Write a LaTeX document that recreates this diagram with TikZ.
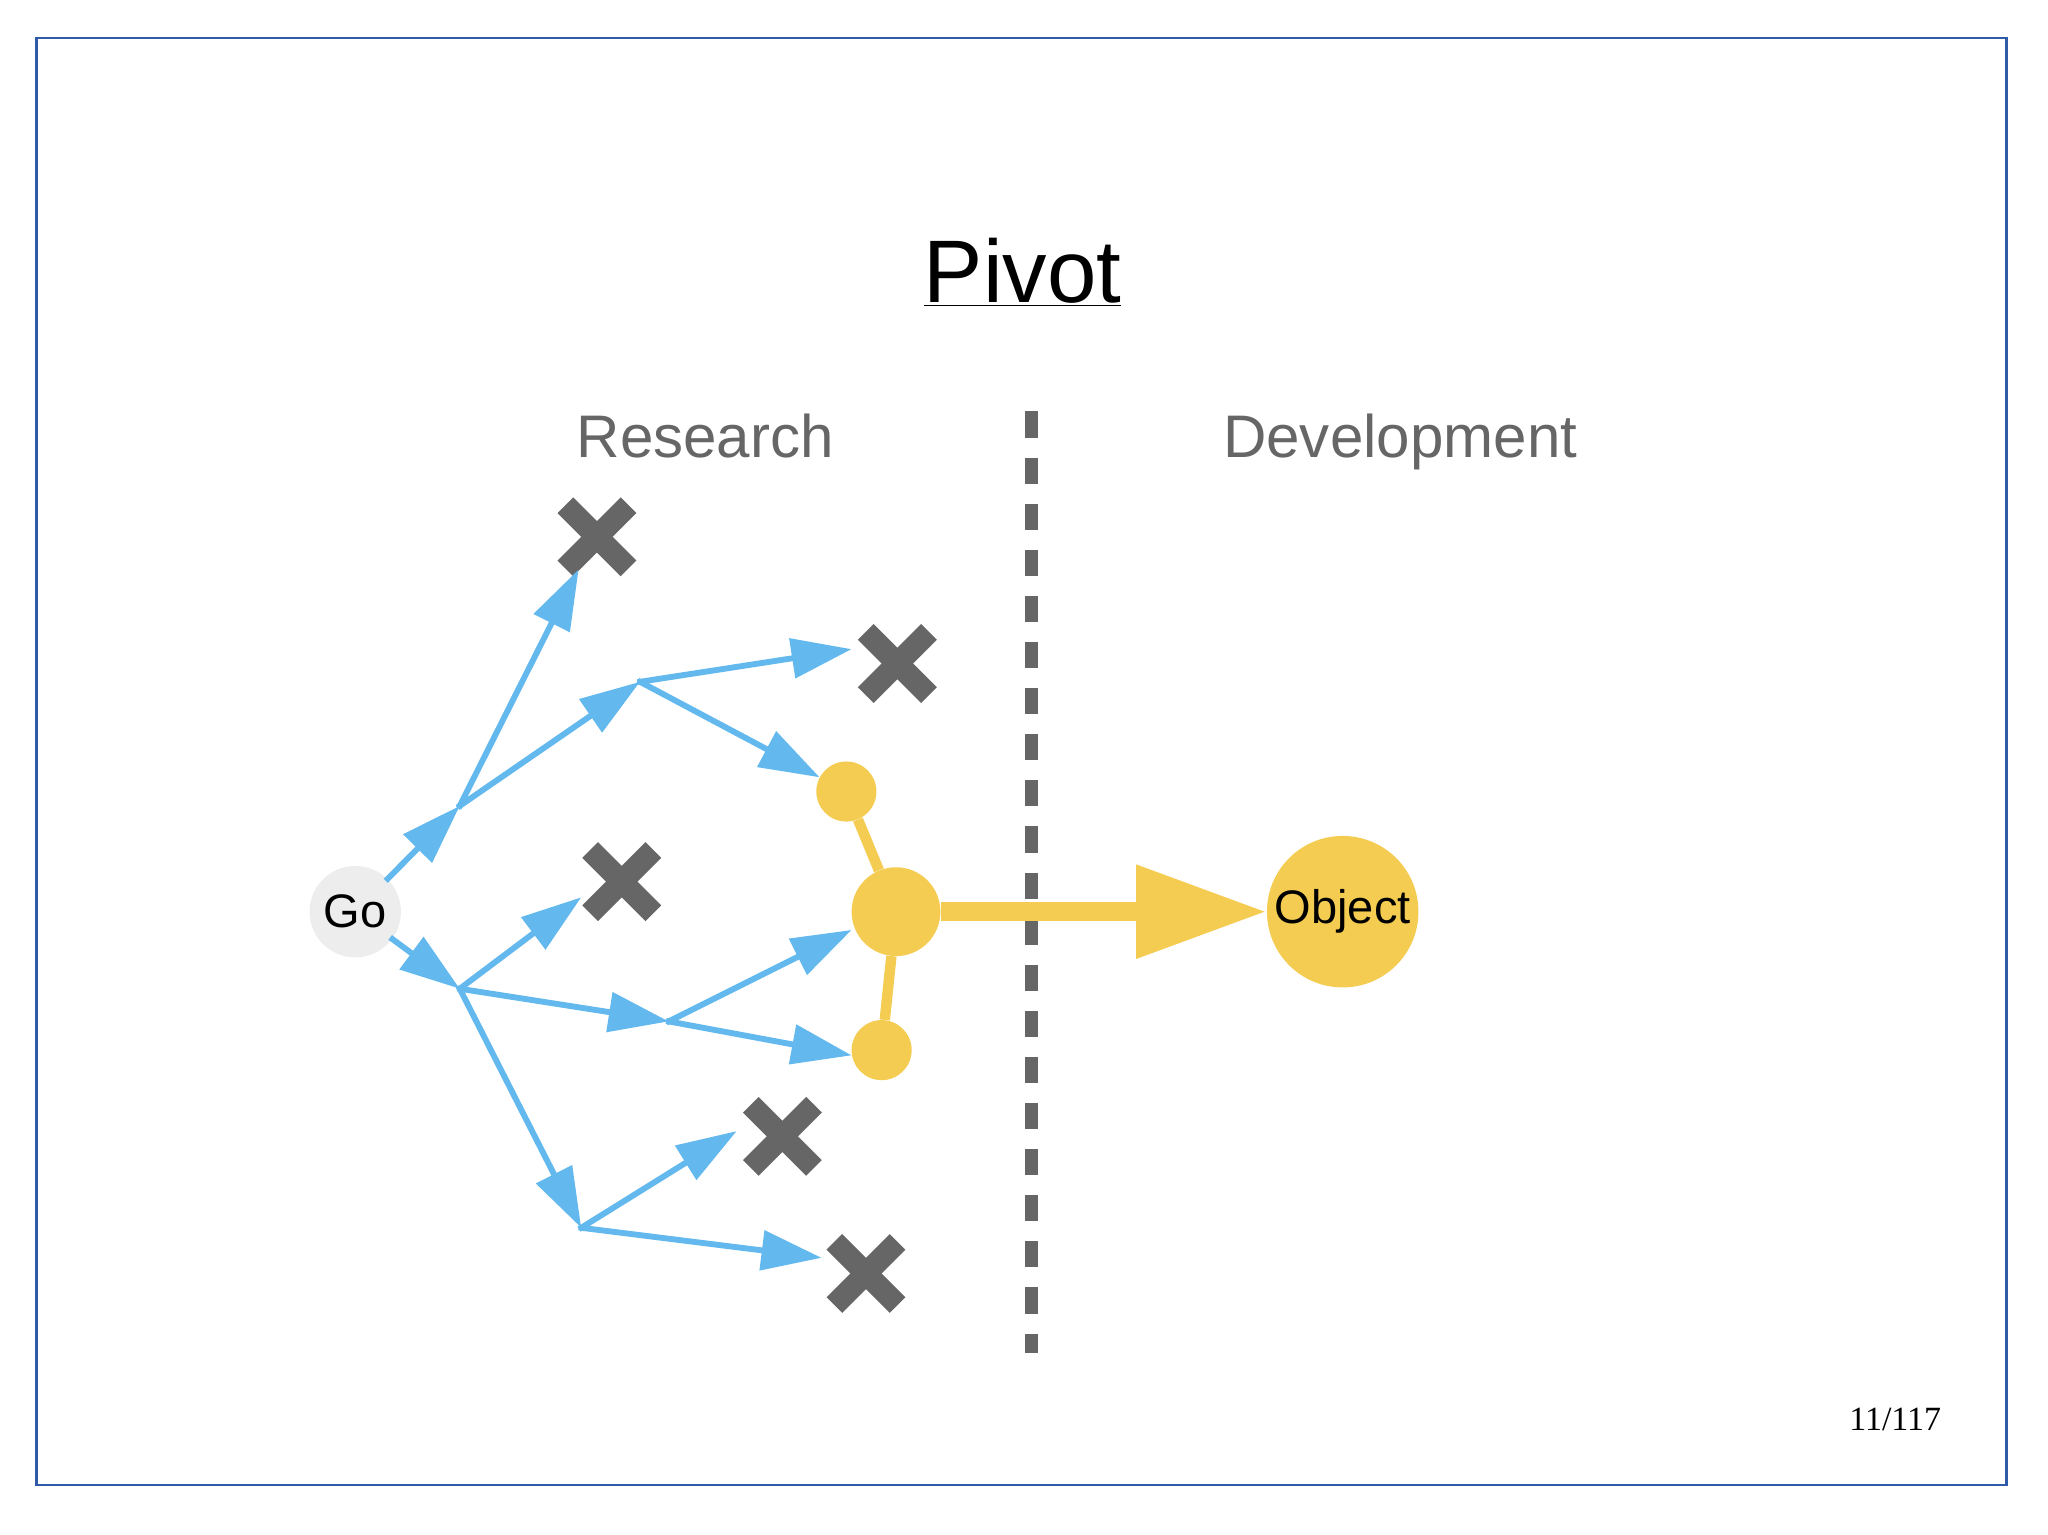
\documentclass[tikz,border=0pt]{standalone}
\usepackage{fontspec}
\setmainfont{Liberation Sans}
\newfontfamily\serifnum{Liberation Serif}
\usetikzlibrary{arrows.meta}
\definecolor{frameblue}{HTML}{2E5AA8}
\definecolor{skyb}{HTML}{63B9EE}
\definecolor{gold}{HTML}{F4CC51}
\definecolor{dgray}{HTML}{666666}
\begin{document}
\begin{tikzpicture}[x=1pt,y=-1pt,
  blue arrow/.style={draw=skyb,line width=4.5pt,-{Triangle[length=46pt,width=30pt]},shorten <=-2pt},
  gline/.style={draw=gold,line width=8pt},
  xmark/.style={draw=dgray,line width=17pt,line cap=butt},
  lab/.style={text=dgray,font=\fontsize{46}{50}\selectfont,anchor=base}]
\useasboundingbox (0,0) rectangle (1568,1175);
\draw[frameblue,line width=2pt] (28,29) rectangle (1536,1137);
\node (title) at (783,208) {\fontsize{68}{72}\selectfont\underline{Pivot}};
\node[lab] (res) at (540,350) {Research};
\node[lab] (dev) at (1072,350) {Development};
\coordinate (d1) at (790,315); \coordinate (d2) at (790,1036);
\draw[dgray,line width=10pt,dash pattern=on 20pt off 15.3pt] (d1) -- (d2);
% yellow
\node[circle,fill=gold,minimum size=46pt,inner sep=0] (y1) at (648,606) {};
\node[circle,fill=gold,minimum size=68pt,inner sep=0] (y2) at (686,698) {};
\node[circle,fill=gold,minimum size=46pt,inner sep=0] (y3) at (675,804) {};
\node[circle,fill=gold,minimum size=116pt,inner sep=0,font=\fontsize{36}{38}\selectfont] (obj) at (1028,698) {Object};
\draw[gline] (y1) -- (y2); \draw[gline] (y3) -- (y2);
\draw[draw=gold,line width=15pt,-{Triangle[length=100pt,width=68pt]}] (y2.east) -- (obj.west);
% go
\node[circle,fill=black!7,minimum size=70pt,inner sep=0,font=\fontsize{36}{38}\selectfont] (go) at (272,698) {Go};
\coordinate (A) at (352,617); \coordinate (B) at (352,757);
\coordinate (C) at (490,522); \coordinate (D) at (512,782); \coordinate (E) at (445,940);
\coordinate (t1) at (443,436); \coordinate (t2) at (652,497);
\coordinate (t4) at (445,687); \coordinate (t5) at (652,712); \coordinate (t6) at (652,808);
\coordinate (t7) at (564,866); \coordinate (t8) at (629,963);
% crosses
\foreach \n/\p in {x1/{(457,411)},x2/{(687,508)},x3/{(476,675)},x4/{(599,870)},x5/{(663,975)}}{
  \node[minimum size=48pt,inner sep=0] (\n) at \p {};
  \draw[xmark] (\n.north west) -- (\n.south east);
  \draw[xmark] (\n.north east) -- (\n.south west);
}
\draw[blue arrow] (go) -- (A);
\draw[blue arrow] (A) -- (t1);
\draw[blue arrow] (A) -- (C);
\draw[blue arrow] (C) -- (t2);
\draw[blue arrow] (C) -- (y1);
\draw[blue arrow] (go) -- (B);
\draw[blue arrow] (B) -- (t4);
\draw[blue arrow] (B) -- (D);
\draw[blue arrow] (D) -- (t5);
\draw[blue arrow] (D) -- (t6);
\draw[blue arrow] (B) -- (E);
\draw[blue arrow] (E) -- (t7);
\draw[blue arrow] (E) -- (t8);
\node[font=\serifnum\fontsize{26}{28}\selectfont] (pg) at (1451,1087) {11/117};
\end{tikzpicture}
\end{document}
